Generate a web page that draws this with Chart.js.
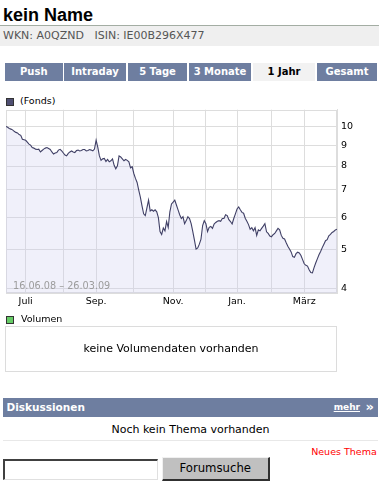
<!DOCTYPE html>
<html><head><meta charset="utf-8">
<script src="https://cdn.jsdelivr.net/npm/chart.js@4/dist/chart.umd.min.js"></script>
<style>
html,body{margin:0;padding:0;background:#fff;}
body{width:379px;height:484px;position:relative;overflow:hidden;font-family:"DejaVu Sans",sans-serif;color:#000;}
.abs{position:absolute;white-space:nowrap;}
#title{left:3px;top:5.5px;font:bold 18px/18px "Liberation Sans",Arial,sans-serif;}
#rule{left:0;top:24.5px;width:379px;height:1.5px;background:#a3ada3;}
#ids{left:0;top:26px;width:379px;height:20px;background:#efefef;color:#555;font-size:11px;line-height:20px;padding-left:3px;box-sizing:border-box;}
.tab{top:62.5px;height:18px;background:#6e7ea0;color:#fff;font:bold 10px/18px "DejaVu Sans",sans-serif;text-align:center;}
.tab.on{background:#f2f2f2;color:#000;}
.leg{font-size:9.5px;line-height:10px;}
.sq{position:absolute;width:6px;height:6px;border:1px solid #333;}
#chartWrap{left:0;top:100px;width:379px;height:215px;}
#range{left:13px;top:280.6px;font-size:9.7px;line-height:10px;color:#9c9c9c;}
#volbox{left:5px;top:326px;width:332px;height:46px;border:1px solid #dcdcdc;box-sizing:border-box;text-align:center;font-size:11px;line-height:44px;}
#disk{left:3px;top:398px;width:375px;height:19px;background:#6e7ea0;color:#fff;}
#disk .t{position:absolute;left:3.5px;top:0;font:bold 10.5px/19px "DejaVu Sans",sans-serif;}
#disk .m{position:absolute;right:18px;top:0;font:bold 9px/19px "DejaVu Sans",sans-serif;text-decoration:underline;}
#disk .r{position:absolute;right:4px;top:-1px;font:bold 13px/19px "DejaVu Sans",sans-serif;}
#noch{left:3px;top:418.7px;width:375px;text-align:center;font-size:11px;line-height:22px;}
#div{left:3px;top:440px;width:375px;height:1px;background:#e8e8e8;}
#neu{right:2.3px;top:446.7px;font-size:9.5px;line-height:10px;color:#f00;}
#inp{left:3px;top:459px;width:155px;height:21px;box-sizing:border-box;border-style:solid;border-width:2px 1px 1px 2px;border-color:#404040 #e0e0e0 #e0e0e0 #404040;background:#fff;}
#btn{left:162px;top:457px;width:107.5px;height:24px;box-sizing:border-box;border-style:solid;border-width:1px 2px 2px 1px;border-color:#f0f0f0 #303030 #303030 #f0f0f0;background:#c0c0c0;text-align:center;font-size:11.7px;line-height:21px;}
</style></head>
<body>
<div id="title" class="abs">kein Name</div>
<div id="rule" class="abs"></div>
<div id="ids" class="abs">WKN: A0QZND&nbsp;&nbsp;&nbsp;ISIN: IE00B296X477</div>

<div class="abs tab" style="left:5px;width:57.5px">Push</div>
<div class="abs tab" style="left:64px;width:62px">Intraday</div>
<div class="abs tab" style="left:128px;width:59px">5 Tage</div>
<div class="abs tab" style="left:189px;width:62px">3 Monate</div>
<div class="abs tab on" style="left:253px;width:62px">1 Jahr</div>
<div class="abs tab" style="left:317px;width:60px">Gesamt</div>

<div class="sq" style="left:6px;top:98px;background:#4f4f72;"></div>
<div class="abs leg" style="left:20px;top:95.7px;">(Fonds)</div>

<div id="chartWrap" class="abs"><canvas id="c" width="379" height="215"></canvas></div>
<div id="range" class="abs">16.06.08 – 26.03.09</div>

<div class="sq" style="left:6px;top:316px;background:#66cc66;"></div>
<div class="abs leg" style="left:21px;top:313.7px;">Volumen</div>
<div id="volbox" class="abs">keine Volumendaten vorhanden</div>

<div id="disk" class="abs"><span class="t">Diskussionen</span><span class="m">mehr</span><span class="r">»</span></div>
<div id="noch" class="abs">Noch kein Thema vorhanden</div>
<div id="div" class="abs"></div>
<div id="neu" class="abs">Neues Thema</div>
<div id="inp" class="abs"></div>
<div id="btn" class="abs">Forumsuche</div>

<script>
// Fund price per trading day, 16.06.08 – 26.03.09
const fondsValues = [
10.0, 9.95, 9.89, 9.85, 9.81, 9.73, 9.67, 9.64, 9.55, 9.51,
9.30, 9.28, 9.25, 9.15, 9.05, 9.00, 8.88, 8.85, 8.80, 8.78,
8.80, 8.66, 8.73, 8.80, 8.85, 8.88, 8.83, 8.78, 8.66, 8.56,
8.61, 8.63, 8.75, 8.79, 8.71, 8.61, 8.51, 8.47, 8.59, 8.66,
8.71, 8.66, 8.63, 8.73, 8.75, 8.71, 8.73, 8.78, 8.78, 8.71,
8.73, 8.78, 8.75, 8.71, 8.80, 9.25, 8.90, 8.47, 8.26, 8.33,
8.35, 8.21, 8.30, 8.19, 8.24, 8.33, 8.03, 7.88, 8.01, 8.47,
8.42, 8.33, 8.24, 8.30, 8.26, 8.19, 7.92, 7.97, 7.67, 7.46,
7.29, 6.98, 6.71, 6.39, 6.11, 6.05, 6.32, 6.60, 6.21, 6.25,
6.20, 6.25, 6.18, 5.98, 5.53, 5.44, 5.64, 5.55, 5.85, 5.66,
6.18, 6.46, 6.53, 6.60, 6.42, 6.25, 6.08, 5.95, 6.01, 5.78,
5.88, 6.01, 5.95, 5.78, 5.53, 5.27, 5.01, 5.04, 5.15, 5.30,
5.72, 5.88, 5.78, 5.53, 5.66, 5.69, 5.63, 5.77, 5.82, 5.86,
5.88, 5.86, 5.95, 5.95, 6.08, 6.05, 5.91, 5.85, 5.77, 5.95,
6.11, 6.28, 6.35, 6.25, 6.16, 6.13, 5.96, 5.86, 5.75, 5.60,
5.65, 5.55, 5.65, 5.41, 5.58, 5.55, 5.63, 5.70, 5.78, 5.52,
5.47, 5.39, 5.37, 5.43, 5.47, 5.55, 5.63, 5.58, 5.41, 5.32,
5.30, 5.19, 5.09, 5.01, 4.93, 4.80, 4.78, 4.88, 4.92, 4.90,
4.83, 4.72, 4.61, 4.57, 4.55, 4.46, 4.39, 4.38, 4.51, 4.63,
4.74, 4.85, 4.94, 5.05, 5.15, 5.25, 5.28, 5.40, 5.44, 5.50,
5.53, 5.58, 5.60
];
// Trading-day index of each month start (Jul .. Mar) and its label
const monthTickIdx = [12, 35, 55, 78, 102, 122, 141, 162, 182];
const monthLabels  = ['Juli', '', 'Sep.', '', 'Nov.', '', 'Jan.', '', 'März'];
// Price axis ticks (log scale)
const priceTicks = [4, 5, 6, 7, 8, 9, 10];
const priceMin = 3.91, priceMax = 10.99;

const GRID = '#dddddd';
const framePlugin = {
  id: 'frame',
  beforeDatasetsDraw(chart) {
    const a = chart.chartArea, ctx = chart.ctx;
    ctx.save();
    ctx.strokeStyle = GRID; ctx.lineWidth = 1;
    ctx.strokeRect(Math.round(a.left) + 0.5, Math.round(a.top) + 0.5,
                   Math.round(a.right - a.left) - 1, Math.round(a.bottom - a.top) - 1);
    ctx.restore();
  }
};

new Chart(document.getElementById('c'), {
  type: 'line',
  data: {
    datasets: [{
      data: fondsValues.map((v, i) => ({ x: i, y: v })),
      borderColor: '#404066',
      borderWidth: 1.1,
      backgroundColor: 'rgba(204,204,240,0.3)',
      fill: 'start',
      pointRadius: 0,
      tension: 0
    }]
  },
  options: {
    responsive: false,
    animation: false,
    events: [],
    layout: { padding: { left: 6, top: 8, right: 0, bottom: 0 } },
    plugins: { legend: { display: false }, tooltip: { enabled: false } },
    scales: {
      x: {
        type: 'linear', min: 0, max: fondsValues.length - 1, bounds: 'data', offset: false,
        afterBuildTicks: s => { s.ticks = monthTickIdx.map(v => ({ value: v })); },
        afterFit: s => { s.height = 22; },
        grid: { color: GRID, drawTicks: false },
        border: { display: true, color: GRID },
        ticks: {
          autoSkip: false, maxRotation: 0, padding: 3, color: '#000',
          font: { family: 'DejaVu Sans', size: 9.5 },
          callback: (v, i) => monthLabels[i]
        }
      },
      y: {
        type: 'logarithmic', position: 'right', min: priceMin, max: priceMax, bounds: 'data',
        afterBuildTicks: s => { s.ticks = priceTicks.map(v => ({ value: v })); },
        afterFit: s => { s.width = 42; },
        grid: { color: GRID, drawTicks: false },
        border: { display: true, color: GRID },
        ticks: {
          padding: 4, color: '#000',
          font: { family: 'DejaVu Sans', size: 9.5 },
          callback: v => String(v)
        }
      }
    }
  },
  plugins: [framePlugin]
});
</script>
</body></html>
